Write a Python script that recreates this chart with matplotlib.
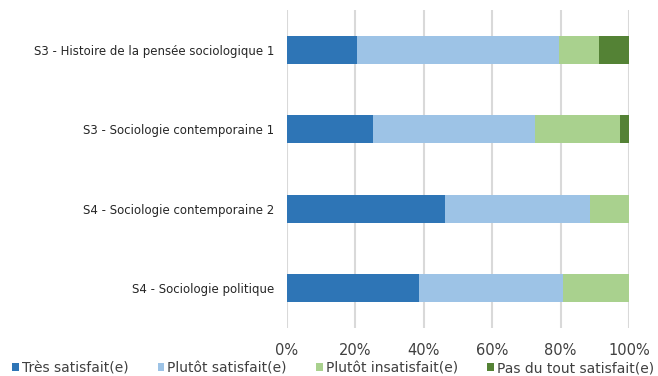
import matplotlib
matplotlib.use("Agg")
import matplotlib.pyplot as plt
import numpy as np

categories = [
    "S3 - Histoire de la pensée sociologique 1",
    "S3 - Sociologie contemporaine 1",
    "S4 - Sociologie contemporaine 2",
    "S4 - Sociologie politique",
]
series_names = ["Très satisfait(e)", "Plutôt satisfait(e)",
                "Plutôt insatisfait(e)", "Pas du tout satisfait(e)"]
tres_satisfait = [20.6, 25.0, 46.2, 38.5]
plutot_satisfait = [58.8, 47.5, 42.3, 42.3]
plutot_insatisfait = [11.8, 25.0, 11.5, 19.2]
pas_du_tout = [8.8, 2.5, 0.0, 0.0]
colors = ["#2e75b6", "#9dc3e6", "#a9d18e", "#548235"]

plt.rcParams['font.family'] = ['DejaVu Sans']

fig = plt.figure(figsize=(6.58, 3.76), dpi=100)
ax = fig.add_axes([0.4362, 0.1277, 0.5197, 0.8457])

y = np.arange(len(categories))[::-1]
left = np.zeros(len(categories))
for name, vals, c in zip(series_names,
                         [tres_satisfait, plutot_satisfait, plutot_insatisfait, pas_du_tout],
                         colors):
    vals = np.array(vals)
    ax.barh(y, vals, left=left, height=0.35, color=c, label=name, zorder=3)
    left += vals

ax.set_xlim(0, 100)
ax.set_ylim(-0.5, len(categories) - 0.5)
ax.set_xticks(np.arange(0, 101, 20))
ax.set_xticklabels([f"{v}%" for v in range(0, 101, 20)], fontsize=10.5, color="#404040")
ax.set_yticks(y)
ax.set_yticklabels(categories, fontsize=8.5, color="#262626")
ax.tick_params(axis="x", length=0, pad=11)
ax.tick_params(axis="y", length=0, pad=9.4)
ax.grid(axis="x", color="#d9d9d9", linewidth=1.5, zorder=0)
for s in ax.spines.values():
    s.set_visible(False)

leg = fig.legend(loc="center left", bbox_to_anchor=(12 / 658, 8 / 376), ncol=4, frameon=False,
                 fontsize=10, handlelength=0.5, handleheight=0.5, handletextpad=0.2,
                 columnspacing=2.1, borderpad=0, borderaxespad=0, labelcolor="#404040")

fig.savefig("out.png", dpi=100)
